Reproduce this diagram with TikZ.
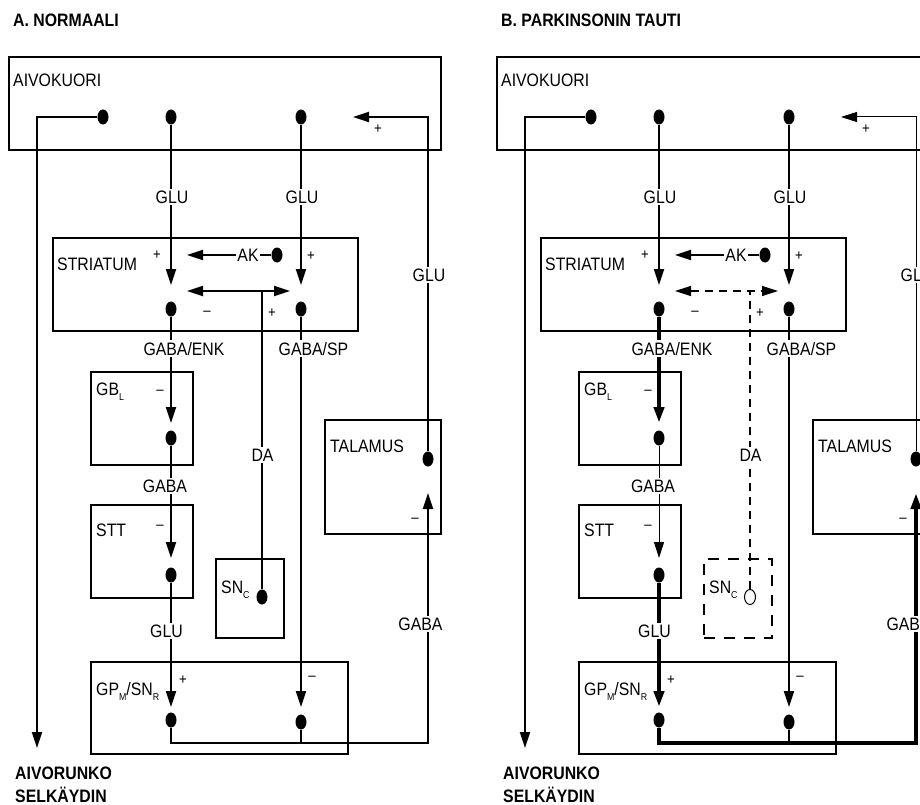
\documentclass[tikz,border=0pt]{standalone}
\usepackage{fontspec}
\setmainfont{Liberation Sans}[FakeStretch=0.88]
\usepackage{tikz}
\usetikzlibrary{arrows.meta,shapes.geometric}
\tikzset{
  % text, boxes and wires of one panel
  txt/.style    = {font=\fontsize{18}{21}\selectfont, inner sep=0pt},
  head/.style   = {txt, font=\fontsize{18}{21}\selectfont\bfseries, anchor=base west},
  boxlbl/.style = {txt, anchor=base west},
  lab/.style    = {txt, fill=white, inner sep=1.5pt, anchor=base},
  sgn/.style    = {font=\fontsize{15}{15}\selectfont, inner sep=0pt},
  box/.style    = {draw, line width=2pt, inner sep=0pt},
  dot/.style    = {ellipse, fill, inner sep=0pt, minimum width=11pt, minimum height=15pt},
  wire/.style   = {line width=2pt},
  fat/.style    = {line width=4.8pt},
  fine/.style   = {line width=1pt},
  tip/.style    = {-{Triangle[length=16pt,width=10pt]}},
  tips/.style   = {{Triangle[length=16pt,width=10pt]}-{Triangle[length=16pt,width=10pt]}},
  % paths that change between the panels
  enkpath/.style = wire, gabapath/.style = wire, glupath/.style = wire,
  outpath/.style = wire, backpath/.style = wire, dapath/.style = wire,
  sncbox/.style  = box,  dadot/.style = dot,
}
\newcommand{\sub}[1]{\raisebox{-5pt}{\fontsize{10}{10}\selectfont #1}}
\newcommand{\basalpanel}[1]{%
  \node[head] (title) at (13,27) {#1};
  % regions
  \node[box, minimum width=432, minimum height=93]  (ctx) at (225,103.5) {};
  \node[box, minimum width=305, minimum height=93]  (str) at (205.5,284.5) {};
  \node[box, minimum width=102, minimum height=93]  (gbl) at (142,418.5) {};
  \node[box, minimum width=102, minimum height=93]  (stt) at (142,551.5) {};
  \node[box, minimum width=257, minimum height=92]  (gpm) at (219.5,708) {};
  \node[box, minimum width=116, minimum height=114] (tal) at (383,477) {};
  \node[sncbox, minimum width=68, minimum height=79] (snc) at (250,598.5) {};
  \node[boxlbl] (ctxlbl) at (13,87)  {AIVOKUORI};
  \node[boxlbl] (strlbl) at (57,270) {STRIATUM};
  \node[boxlbl] (gbllbl) at (96,395) {GB\sub{L}};
  \node[boxlbl] (sttlbl) at (96,536) {STT};
  \node[boxlbl] (gpmlbl) at (96,695) {GP\sub{M}/SN\sub{R}};
  \node[boxlbl] (tallbl) at (330,452) {TALAMUS};
  \node[boxlbl] (snclbl) at (221,593) {SN\sub{C}};
  % cortex
  \node[dot] (c1) at (103,117) {};
  \node[dot] (c2) at (171,117) {};
  \node[dot] (c3) at (301,117) {};
  \coordinate (cin) at (353,117);
  \coordinate (cbend) at (37,117);
  \coordinate (stem) at (37,748);
  \draw[wire, tip] (c1) -- (cbend) -- (stem);
  \node[sgn] (cinsgn) at (378,129) {+};
  \node[boxlbl] (stem1) at (15,779) {\bfseries AIVORUNKO};
  \node[boxlbl] (stem2) at (15,802) {\bfseries SELKÄYDIN};
  % striatum
  \coordinate (si1) at (171,285);
  \coordinate (si2) at (301,285);
  \foreach \a/\b in {c2/si1,c3/si2} {\draw[wire, tip] (\a) -- (\b);}
  \node[lab] (glu1) at (172,203) {GLU};
  \node[lab] (glu2) at (302,203) {GLU};
  \node[sgn] (sisgn1) at (157,255) {+};
  \node[sgn] (sisgn2) at (311,256) {+};
  \node[dot] (ak) at (277,255) {};
  \node[txt, inner sep=1.5pt] (aklbl) at (248,255) {AK};
  \coordinate (akin) at (187,255);
  \draw[wire] (ak) -- (aklbl);
  \draw[wire, tip] (aklbl) -- (akin);
  \node[dot] (s1) at (171,309) {};
  \node[dot] (s2) at (301,309) {};
  \node[sgn] (dasgn1) at (207,313) {–};
  \node[sgn] (dasgn2) at (272,313) {+};
  % dopamine
  \coordinate (daL) at (187,291);
  \coordinate (daR) at (290,291);
  \coordinate (daJ) at (262,291);
  \node[dadot] (n1) at (262,597) {};
  \draw[dapath, tips] (daL) -- (daR);
  \draw[dapath] (n1) -- (daJ);
  \node[lab] (dalbl) at (262.5,461) {DA};
  % indirect path
  \coordinate (gin) at (171,423);
  \coordinate (tin) at (171,558);
  \coordinate (min1) at (171,707);
  \node[dot] (g1) at (171,438) {};
  \node[dot] (t1) at (171,575) {};
  \node[dot] (m1) at (171,720) {};
  \draw[enkpath, tip] (s1) -- (gin);
  \draw[gabapath, tip] (g1) -- (tin);
  \draw[glupath, tip] (t1) -- (min1);
  \node[lab] (enklbl) at (184,355) {GABA/ENK};
  \node[lab] (gaba1) at (165,492) {GABA};
  \node[lab] (glu3) at (166.5,637) {GLU};
  \node[sgn] (gblsgn) at (160,392) {–};
  \node[sgn] (sttsgn) at (160,527) {–};
  \node[sgn] (gpmsgn1) at (183,680) {+};
  % direct path
  \coordinate (min2) at (301,707);
  \node[dot] (m2) at (301,722) {};
  \draw[wire, tip] (s2) -- (min2);
  \node[lab] (splbl) at (313.5,355) {GABA/SP};
  \node[sgn] (gpmsgn2) at (312,678) {–};
  % output to thalamus and back to cortex
  \coordinate (mb1) at (171,743);
  \coordinate (mb2) at (301,743);
  \coordinate (mb3) at (428,743);
  \coordinate (hin) at (428,493);
  \coordinate (hb) at (428,117);
  \node[dot] (h1) at (428,459) {};
  \draw[outpath, tip] (m1) -- (mb1) -- (mb3) -- (hin);
  \draw[wire] (m2) -- (mb2);
  \draw[backpath, tip] (h1) -- (hb) -- (cin);
  \node[lab] (gaba2) at (420.5,630) {GABA};
  \node[lab] (glu4) at (429,281) {GLU};
  \node[sgn] (talsgn) at (415,520) {–};
}

\begin{document}
\begin{tikzpicture}[x=1pt, y=-1pt]
\useasboundingbox (0,0) rectangle (920,805);
\clip (0,0) rectangle (920,805);
% A: normal
\begin{scope}[name prefix=A-]
  \basalpanel{A. NORMAALI}
\end{scope}
% B: Parkinson
\begin{scope}[xshift=488, name prefix=B-,
  enkpath/.style = fat, gabapath/.style = fine, glupath/.style = fat,
  outpath/.style = fat, backpath/.style = fine,
  dapath/.style  = {line width=1.2pt, dash pattern=on 8pt off 6pt},
  sncbox/.style  = {draw, line width=1.2pt, dash pattern=on 11pt off 9pt},
  dadot/.style   = {dot, fill=white, draw, line width=1pt}]
  \basalpanel{B. PARKINSONIN TAUTI}
\end{scope}
\end{tikzpicture}
\end{document}
